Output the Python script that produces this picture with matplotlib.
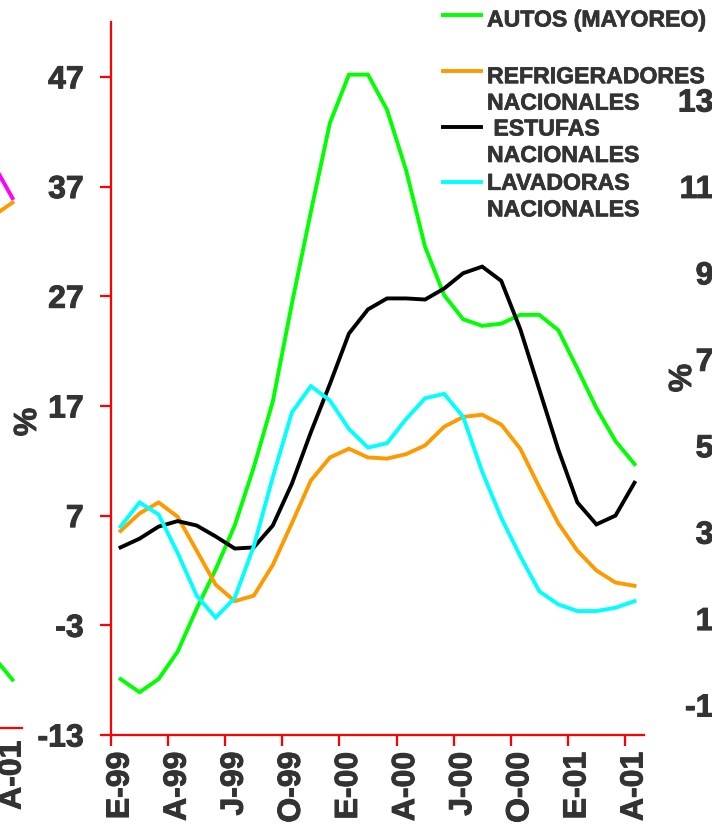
import numpy as np
import matplotlib
matplotlib.use("Agg")
import matplotlib.pyplot as plt
import matplotlib.patheffects as pe
from matplotlib.lines import Line2D

plt.rcParams['font.family'] = ['Liberation Sans', 'DejaVu Sans']

# ---- data -------------------------------------------------------------
months = ['E-99', 'F-99', 'M-99', 'A-99', 'M-99', 'J-99', 'J-99', 'A-99',
          'S-99', 'O-99', 'N-99', 'D-99', 'E-00', 'F-00', 'M-00', 'A-00',
          'M-00', 'J-00', 'J-00', 'A-00', 'S-00', 'O-00', 'N-00', 'D-00',
          'E-01', 'F-01', 'M-01', 'A-01']

autos = [-7.9, -9.1, -7.9, -5.4, -1.5, 2.1, 6.1, 11.4, 17.4, 26.3, 34.7, 42.8,
         47.2, 47.2, 44.0, 38.5, 31.5, 27.1, 24.9, 24.3, 24.5, 25.3, 25.3, 23.9,
         20.4, 16.8, 13.8, 11.7]
refrigeradores = [5.6, 7.2, 8.2, 6.9, 3.8, 0.7, -0.8, -0.3, 2.5, 6.3, 10.2, 12.3,
                  13.1, 12.3, 12.2, 12.6, 13.4, 15.1, 16.0, 16.2, 15.3, 13.1, 9.6,
                  6.3, 3.8, 2.0, 0.9, 0.6]
estufas = [4.1, 4.9, 6.0, 6.5, 6.1, 5.1, 4.0, 4.1, 6.1, 9.9, 14.6, 19.0, 23.6,
           25.8, 26.8, 26.8, 26.7, 27.7, 29.1, 29.7, 28.4, 24.0, 18.5, 13.0, 8.2,
           6.2, 7.0, 10.0]
lavadoras = [6.0, 8.2, 7.1, 3.6, -0.3, -2.3, -0.5, 4.2, 10.5, 16.4, 18.8, 17.5,
             14.9, 13.2, 13.6, 15.8, 17.7, 18.1, 16.0, 11.0, 6.8, 3.3, 0.1, -1.1,
             -1.7, -1.7, -1.4, -0.8]

series_labels = ['AUTOS (MAYOREO)', 'REFRIGERADORES\nNACIONALES',
                 ' ESTUFAS\nNACIONALES', 'LAVADORAS\nNACIONALES']
series_colors = ['#00FF00', '#FF9900', '#000000', '#00FFFF']

y_ticks = [-13, -3, 7, 17, 27, 37, 47]
x_label_step = 3

# neighbouring panels (only their edges fall inside the figure)
prev_months = ['M-01', 'A-01']
prev_magenta = [38.4, 35.3]
prev_orange = [33.7, 34.9]
prev_green = [-6.5, -8.6]
next_y_ticks = [-1, 1, 3, 5, 7, 9, 11, 13]

# ---- layout -----------------------------------------------------------
W, H = 712, 827
DPI = 100
TXT = '#333333'
RED = '#FF0000'
FS = 23
LW = 2.8
BOLD = [pe.withStroke(linewidth=0.7, foreground=TXT)]

fig = plt.figure(figsize=(W / DPI, H / DPI), dpi=DPI)
fig.patch.set_facecolor('white')


def px_box(left, top, right, bottom):
    return [left / W, 1 - bottom / H, (right - left) / W, (bottom - top) / H]


def heavy(texts):
    for t in texts:
        t.set_path_effects(BOLD)


# ---- main panel -------------------------------------------------------
ax = fig.add_axes(px_box(111, 22, 644, 735))
x = np.arange(len(months))
for vals, col in zip([autos, refrigeradores, estufas, lavadoras], series_colors):
    ax.plot(x, vals, color=col, lw=LW, solid_joinstyle='miter', zorder=3)

ax.set_xlim(-0.5, len(months) - 0.5)
ax.set_ylim(-13, 52)
for s in ['top', 'right']:
    ax.spines[s].set_visible(False)
for s in ['left', 'bottom']:
    ax.spines[s].set_color(RED)
    ax.spines[s].set_linewidth(1.6)

ax.set_yticks(y_ticks)
ax.set_yticklabels([str(v) for v in y_ticks], fontsize=FS, fontweight='bold', color=TXT)
ax.tick_params(axis='y', direction='out', length=7.7, width=1.6, color=RED, pad=12)
heavy(ax.get_yticklabels())

# tick marks between categories, labels centred on categories
ax.set_xticks(np.arange(-0.5, len(months) - 0.5, x_label_step))
ax.set_xticklabels([])
ax.tick_params(axis='x', which='major', direction='out', length=7.7, width=1.6, color=RED)
lab_pos = np.arange(0, len(months), x_label_step)
ax.set_xticks(lab_pos, minor=True)
ax.set_xticklabels([months[i] for i in lab_pos], minor=True, rotation=90,
                   fontsize=FS, fontweight='bold', color=TXT)
ax.tick_params(axis='x', which='minor', length=0, pad=12)
for t in ax.get_xticklabels(minor=True):
    t.set_verticalalignment('top')
    t.set_horizontalalignment('center')
heavy(ax.get_xticklabels(minor=True))

t = fig.text(28 / W, 1 - 422 / H, '%', rotation=90, fontsize=FS,
             fontweight='bold', color=TXT, ha='center', va='center')
t.set_path_effects(BOLD)

# ---- legend ------------------------------------------------------------
leg_rows = [(14.7, 20), (70.7, 76.7), (126.7, 129), (182.3, 183.3)]
line_gap = 26.5
for (ly, ty), lab, col in zip(leg_rows, series_labels, series_colors):
    fig.add_artist(Line2D([443 / W, 481 / W], [1 - ly / H, 1 - ly / H],
                          color=col, lw=LW, transform=fig.transFigure))
    for k, part in enumerate(lab.split('\n')):
        t = fig.text(487 / W, 1 - (ty + k * line_gap) / H, part, fontsize=16.6,
                     fontweight='bold', color=TXT, ha='left', va='center')
        t.set_path_effects([pe.withStroke(linewidth=0.5, foreground=TXT)])

# ---- neighbouring panel on the left (edge only) -------------------------
axp = fig.add_axes(px_box(22 - 533, 15, 22, 728))
axp.patch.set_visible(False)
xp = np.arange(26, 28)
axp.plot(xp, prev_magenta, color='#FF00FF', lw=LW)
axp.plot(xp, prev_orange, color='#FF9900', lw=LW)
axp.plot(xp, prev_green, color='#00FF00', lw=LW)
axp.set_xlim(-0.5, 27.5)
axp.set_ylim(-13, 52)
for s in ['top', 'right', 'left']:
    axp.spines[s].set_visible(False)
axp.spines['bottom'].set_color(RED)
axp.spines['bottom'].set_linewidth(1.6)
axp.set_yticks([])
axp.set_xticks([27])
axp.set_xticklabels([prev_months[-1]], rotation=90, fontsize=FS,
                    fontweight='bold', color=TXT, va='top')
axp.tick_params(axis='x', length=0, pad=9)
heavy(axp.get_xticklabels())

# ---- neighbouring panel on the right (tick labels only) ----------------
axn = fig.add_axes(px_box(737, 22, 737 + 300, 735))
axn.patch.set_visible(False)
for s in axn.spines.values():
    s.set_visible(False)
axn.set_xticks([])
axn.set_ylim(-1 - (735 - 705) / 43.2, 13 + (100 - 22) / 43.2)
axn.set_yticks(next_y_ticks)
axn.set_yticklabels([str(v) for v in next_y_ticks], fontsize=FS,
                    fontweight='bold', color=TXT)
axn.tick_params(axis='y', length=7, pad=10, color=RED)
heavy(axn.get_yticklabels())
t = fig.text(683 / W, 1 - 378 / H, '%', rotation=90, fontsize=FS,
             fontweight='bold', color=TXT, ha='center', va='center')
t.set_path_effects(BOLD)

fig.savefig('out.png', dpi=DPI, facecolor='white')
